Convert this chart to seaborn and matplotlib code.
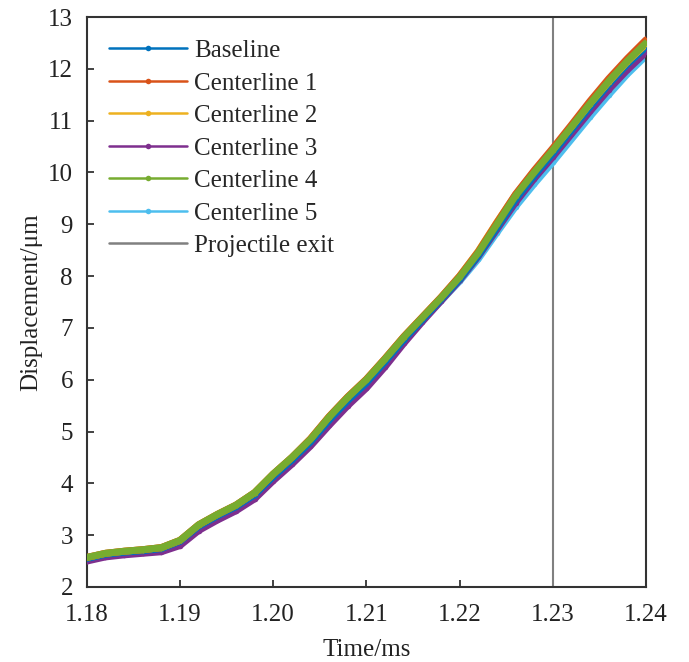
import matplotlib
matplotlib.use("Agg")
import matplotlib.pyplot as plt
from matplotlib.lines import Line2D
import numpy as np
import pandas as pd
import seaborn as sns

# Time samples (ms)
time_ms = [1.180, 1.182, 1.184, 1.186, 1.188, 1.190, 1.192, 1.194, 1.196, 1.198,
           1.200, 1.202, 1.204, 1.206, 1.208, 1.210, 1.212, 1.214, 1.216, 1.218,
           1.220, 1.222, 1.224, 1.226, 1.228, 1.230, 1.232, 1.234, 1.236, 1.238,
           1.240]

# Displacement (um) along each measurement line
baseline = [2.55, 2.63, 2.67, 2.70, 2.74, 2.88, 3.17, 3.37, 3.55, 3.78,
            4.13, 4.45, 4.80, 5.22, 5.60, 5.94, 6.35, 6.77, 7.16, 7.55,
            7.94, 8.40, 8.94, 9.48, 9.94, 10.37, 10.82, 11.27, 11.70, 12.09,
            12.42]
centerline_1 = [2.57, 2.65, 2.69, 2.72, 2.76, 2.90, 3.20, 3.40, 3.58, 3.82,
                4.18, 4.50, 4.86, 5.29, 5.67, 6.01, 6.41, 6.83, 7.21, 7.59,
                8.00, 8.47, 9.03, 9.58, 10.04, 10.47, 10.92, 11.38, 11.81, 12.20,
                12.56]
centerline_2 = [2.57, 2.65, 2.69, 2.72, 2.76, 2.90, 3.20, 3.40, 3.58, 3.82,
                4.18, 4.50, 4.86, 5.29, 5.67, 6.01, 6.41, 6.83, 7.21, 7.59,
                8.00, 8.48, 9.04, 9.57, 10.02, 10.44, 10.88, 11.33, 11.75, 12.14,
                12.48]
centerline_3 = [2.50, 2.58, 2.62, 2.65, 2.68, 2.80, 3.09, 3.29, 3.47, 3.70,
                4.05, 4.37, 4.72, 5.12, 5.50, 5.84, 6.25, 6.70, 7.12, 7.52,
                7.92, 8.38, 8.90, 9.42, 9.88, 10.30, 10.74, 11.18, 11.60, 11.98,
                12.32]
centerline_4 = [2.57, 2.65, 2.69, 2.72, 2.76, 2.90, 3.20, 3.40, 3.58, 3.82,
                4.18, 4.50, 4.85, 5.28, 5.66, 6.00, 6.40, 6.82, 7.20, 7.58,
                7.98, 8.45, 9.00, 9.55, 10.00, 10.43, 10.88, 11.33, 11.76, 12.15,
                12.50]
centerline_5 = [2.53, 2.61, 2.65, 2.68, 2.72, 2.86, 3.15, 3.35, 3.53, 3.76,
                4.11, 4.43, 4.78, 5.20, 5.58, 5.92, 6.33, 6.75, 7.14, 7.52,
                7.90, 8.33, 8.84, 9.34, 9.78, 10.20, 10.64, 11.08, 11.50, 11.90,
                12.25]

series_names = ["Baseline", "Centerline 1", "Centerline 2",
                "Centerline 3", "Centerline 4", "Centerline 5"]
series_values = [baseline, centerline_1, centerline_2,
                 centerline_3, centerline_4, centerline_5]
colors = ["#0072BD", "#D95319", "#EDB120", "#7E2F8E", "#77AC30", "#4DBEEE"]

exit_time = 1.23
exit_label = "Projectile exit"

x_ticks = [1.18, 1.19, 1.20, 1.21, 1.22, 1.23, 1.24]
y_ticks = list(range(2, 14))

df = pd.concat(
    [pd.DataFrame({"Time": time_ms, "Displacement": vals, "Series": name})
     for name, vals in zip(series_names, series_values)],
    ignore_index=True,
)

sns.set_theme(style="white")
plt.rcParams["font.family"] = ["Liberation Serif", "DejaVu Serif"]

fig = plt.figure(figsize=(6.89, 6.62), dpi=100)
ax = fig.add_axes([0.126, 0.1133, 0.8116, 0.861])

# Draw order: cyan first so the others sit on top of it
order = [5, 3, 0, 2, 1, 4]
for i in order:
    sub = df[df["Series"] == series_names[i]]
    sns.lineplot(data=sub, x="Time", y="Displacement", ax=ax,
                 color=colors[i], lw=5.0, marker="o", markersize=4,
                 markeredgewidth=0, legend=False, zorder=2 + order.index(i))

ax.axvline(exit_time, color="#808080", lw=1.5, zorder=1)

ax.set_xlim(1.18, 1.24)
ax.set_ylim(2, 13)
ax.set_xticks(x_ticks)
ax.set_xticklabels([f"{t:.2f}" for t in x_ticks])
ax.set_yticks(y_ticks)
ax.set_yticklabels([str(v) for v in y_ticks])
ax.tick_params(axis="both", direction="in", length=5, width=1.2,
               labelsize=18, colors="#222222", top=False, right=False,
               bottom=True, left=True)
ax.tick_params(axis="x", pad=12.5)
ax.tick_params(axis="y", pad=10)
for side in ["left", "bottom", "top", "right"]:
    ax.spines[side].set_color("#333333")
    ax.spines[side].set_linewidth(1.5)

ax.set_xlabel("Time/ms", fontsize=18, color="#222222", labelpad=9)
ax.set_ylabel("Displacement/μm", fontsize=18, color="#222222", labelpad=4)

handles = [Line2D([0], [0], color=c, lw=1.8, marker="o", markersize=4,
                  markeredgewidth=0) for c in colors]
handles.append(Line2D([0], [0], color="#808080", lw=1.8))
labels = series_names + [exit_label]
ax.legend(handles, labels, loc="upper left", frameon=False, fontsize=18,
          handlelength=3.1, handletextpad=0.28, labelspacing=0.40,
          borderaxespad=0.5, bbox_to_anchor=(0.0, 1.0))

fig.savefig("out.png", dpi=100)
